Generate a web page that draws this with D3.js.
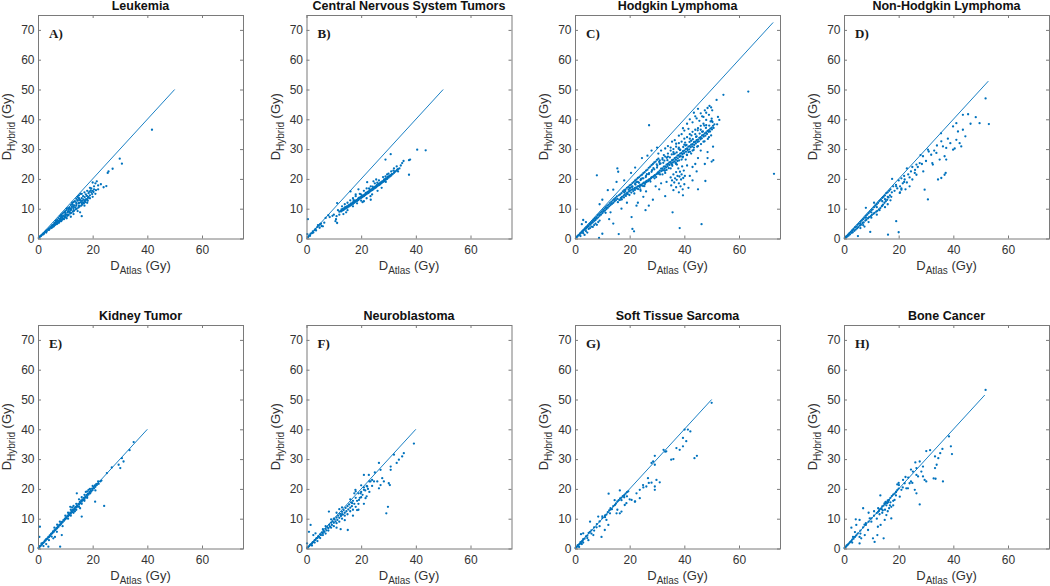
<!DOCTYPE html>
<html><head><meta charset="utf-8">
<script src="https://cdn.jsdelivr.net/npm/d3@7"></script>
<style>
html,body{margin:0;padding:0;background:#fff;}
svg{display:block;font-family:Arial,"Liberation Sans",Helvetica,sans-serif;}
</style></head>
<body>
<svg id="chart" width="1050" height="586"></svg>
<script>
// ---------- data ----------
const titles = ["Leukemia","Central Nervous System Tumors","Hodgkin Lymphoma","Non-Hodgkin Lymphoma","Kidney Tumor","Neuroblastoma","Soft Tissue Sarcoma","Bone Cancer"];
const letters = ["A)","B)","C)","D)","E)","F)","G)","H)"];
const lineEnds = [50,50,72.5,52.8,40,40,50,51.5];
const xTicks = [0,20,40,60];
const yTicks = [0,10,20,30,40,50,60,70];

const leukemia = [[0.3,0.3],[0.5,0.4],[0.8,0.7],[1,0.9],[1.2,1],[1.5,1.3],[1.8,1.5],[2,1.8],[2.2,1.7],[2.5,2.2],[2.8,2.3],[3,2.6],[3.2,2.4],[3.5,3],[3.8,2.9],[4,3.4],[4.2,3.1],[4.5,3.8],[4.8,3.5],[5,4.3],[5.2,3.8],[5.5,4.6],[5.8,4.2],[6,5.2],[6.2,4.5],[6.5,5.5],[6.8,4.8],[7,6.2],[7.2,5.1],[7.5,6.8],[7.8,5.6],[8,7.5],[8.2,5.9],[8.5,7.8],[8.8,6.3],[9,8.4],[9.2,6.6],[9.5,8.8],[9.8,7],[10,9.2],[10.2,7.2],[10.5,9.6],[10.8,7.6],[11,10.2],[11.2,7.9],[11.5,10.5],[11.8,8.4],[12,11.2],[12.2,8.6],[12.5,11.5],[12.8,9],[13,12.2],[13.2,9.3],[13.5,12.5],[13.8,9.8],[14,13.3],[14.2,10],[14.5,13.8],[14.8,10.4],[15,14.5],[15.2,10.7],[15.5,12.8],[15.8,11],[16,13.5],[16.2,11.4],[16.5,12],[16.8,11.8],[17,12.5],[17.3,12.2],[17.6,13.2],[18,13],[18.5,14],[19,14.5],[19.5,15.5],[20,16],[20.5,17.5],[21,18.5],[21.5,19.2],[20,18.8],[19,17],[18,16],[17,15.5],[16,15],[15,13.5],[14,12],[13,10.8],[12,10],[11,9.1],[10,8.2],[9,7.4],[8,6.6],[7,5.8],[6,4.9],[16.5,14.2],[17.5,14.8],[18.5,15.2],[19.5,16.8],[20.5,16.5],[22,17.8],[23,18.2],[24,17.2],[25,17.6],[25.5,22],[25.8,22.5],[27.3,23.4],[29.9,26.8],[30.7,25.1],[41.7,36.5],[16,7.5],[15.4,8.8],[13,8.2],[12,7.3],[10.5,6.8],[9.5,6.5],[8.5,5.8],[14.5,9.2],[17,11],[18,12],[19,13.5],[20,14],[21,15],[22,16.5],[3,2],[5,3.6],[7,5],[9,6.5],[11,8],[13,9.5],[15,11],[16,11.8],[17,12.8],[18.2,12.7],[6.5,5.9],[8.5,8],[10.5,10],[12.5,12],[14.5,14],[15.5,15],[14,11],[15,12],[12,9.5],[10,7.8],[8,6.2],[4,2.9],[2,1.4],[1,0.8],[5.3,4.4],[5.7,4],[6.1,4.7],[6.6,5],[6.9,5.4],[7.4,5.9],[7.7,5.3],[8.1,6.4],[8.4,6.9],[8.9,7],[9.3,7.7],[9.7,7.3],[10.1,8.6],[10.4,8],[10.9,8.8],[11.3,9.6],[11.6,8.9],[12.1,9.8],[12.4,10.6],[12.9,10.2],[13.3,11.1],[13.6,10.4],[14.1,11.6],[14.4,12.7],[14.9,11.8],[15.3,13],[15.7,12.2],[16.1,12.6],[16.6,13.1],[17.1,13.9],[17.4,12.9],[17.9,14.3],[18.3,13.6],[18.8,15.7],[19.3,16.1],[19.8,14.9],[20.3,15.6],[21.2,16.2],[8.6,7.4],[9.9,8.9],[11.4,10.1],[12.7,11.3],[14.6,12.9]];

const cns = [[0.3,1.5],[0.5,6.5],[0.6,0.5],[1,1],[1.3,0.9],[1.5,1.6],[2,1.8],[2.3,2.4],[2.5,2],[3,2.8],[3.3,3.2],[3.5,2.7],[4,3.9],[4.2,4.5],[4.5,4.3],[4.8,3.6],[5,4.8],[5.3,5],[5.5,4.2],[6,4.1],[6.5,5.3],[7,6.9],[8,7.8],[8.5,7.2],[9.5,7.6],[10,8],[10.6,5.8],[11.2,5.2],[11.2,11.9],[10.8,6.5],[11.5,9.5],[12,9],[12.5,9.2],[12.8,9.8],[13,9.4],[13.3,9.9],[13.5,9.6],[13.8,10.2],[14,9.9],[14.3,10.5],[14.5,10.2],[14.8,10.8],[15,10.4],[15.3,11],[15.5,10.7],[15.8,11.3],[16,11],[16.3,11.6],[16.5,11.3],[16.8,11.9],[17,11.6],[17.3,12.2],[17.5,12],[17.8,12.6],[18,12.3],[18.3,12.9],[18.5,12.6],[18.8,13.2],[19,12.9],[19.3,13.5],[19.5,13.3],[19.8,13.9],[20,13.6],[20.3,14.2],[20.5,13.9],[20.8,14.5],[21,14.2],[21.3,14.8],[21.5,14.6],[21.8,15.2],[22,14.9],[22.3,15.5],[22.5,15.2],[22.8,15.8],[23,15.5],[23.3,16.1],[23.5,15.9],[23.8,16.5],[24,16.2],[24.3,16.8],[24.5,16.5],[24.8,17.1],[25,16.9],[25.3,17.5],[25.5,17.2],[25.8,17.8],[26,17.6],[26.3,18.1],[26.5,17.9],[26.8,18.5],[27,18.2],[27.3,18.8],[27.5,18.6],[27.8,19.2],[28,19],[28.3,19.5],[28.5,19.3],[28.8,19.9],[29,19.7],[29.3,20.2],[29.5,20],[29.8,20.6],[30,20.4],[30.3,20.9],[30.5,20.8],[30.8,21.3],[31,21.1],[31.5,21.6],[32,22],[32.5,22.5],[33,22.8],[33.5,23.3],[34,23.5],[14,11.5],[16,12.8],[17,13.5],[18,14.2],[19.5,15],[21,16],[22,16.8],[23.5,17.5],[25,18.5],[26.5,19.5],[28,20.6],[29.5,21.5],[31,22.5],[15,9.5],[17,10.8],[18.5,11.8],[20,12.7],[20.5,12.2],[21,12.5],[22,13.5],[23.5,13],[23.4,14.2],[24,14.8],[26,16],[27.5,17],[16.1,15.8],[22.2,18.9],[18,14.8],[19,16.5],[24.5,19.2],[25.5,19.8],[28.9,26.5],[30.8,28.3],[35,25.3],[34.5,24.5],[35.5,26],[33,24.2],[32,23.5],[37.9,26.5],[37.5,26.3],[37.5,21.4],[40.5,29.8],[43.6,29.6],[30,21.8],[31.8,22.8],[33.5,22.5],[29,19],[13.5,8.2],[14.5,8.8],[12,8],[11,7.5],[13,10.8],[15,12],[12.7,9.1],[13.4,9.5],[14.1,10.4],[14.9,10.6],[15.6,11.2],[16.2,11.7],[16.9,12.1],[17.6,12.7],[18.4,12.8],[19.1,13.6],[19.7,13.8],[20.4,14.4],[21.1,14.5],[21.7,15.3],[22.4,15.6],[23.1,16.2],[23.7,16.4],[24.4,17.1],[25.1,17.3],[25.7,17.9],[26.4,18.3],[27.1,18.7],[27.7,19.1],[28.4,19.8],[29.1,20.1],[29.7,20.7],[30.4,21.1],[31.2,21.6],[32.3,22.4],[33.2,23.1],[19.9,14.8],[22.9,16.8],[25.9,18.7],[28.9,20.8],[17.2,12.9],[24.2,17.4]];

const hodgkin = [[0.5,0.4],[0.8,0.6],[1,0.9],[1.3,1.1],[1.5,1.2],[1.8,1.6],[2,1.7],[2.2,2],[2.5,2.1],[2.7,2.5],[3,2.6],[3.2,2.9],[3.5,3],[3.7,3.4],[4,3.3],[4.2,3.9],[4.5,3.8],[4.8,4.4],[5,4.1],[5.3,4.9],[5.5,4.6],[5.8,5.3],[6,5],[6.3,5.8],[6.5,5.4],[6.8,6.3],[7,5.9],[7.3,6.8],[7.5,6.2],[7.8,7.2],[8,6.7],[8.3,7.8],[8.5,7.1],[8.8,8.2],[9,7.6],[9.3,8.7],[9.5,8],[9.8,9.1],[10,8.5],[10.3,9.6],[10.5,9],[10.8,10.1],[11,9.4],[11.3,10.5],[11.5,9.9],[11.8,11],[12,10.3],[12.3,11.4],[12.5,10.8],[12.8,11.9],[13,11.2],[13.3,12.3],[13.5,11.6],[13.8,12.8],[14,12],[14.3,13.2],[14.5,12.5],[14.8,13.6],[15,12.9],[15.3,14.1],[3,1.8],[4,2.5],[5,3.2],[6,4],[2,0.8],[3.5,1.2],[4.5,2],[5.5,3.5],[6.5,3.9],[7,4.5],[7.5,5],[8,4.6],[8.5,5.5],[9,6],[3,6.2],[2.5,4.8],[4,5.5],[15.5,13.3],[16,14.5],[16.2,13],[16.5,14.8],[16.8,13.6],[17,15.2],[17.2,14],[17.5,15.8],[17.8,14.4],[18,16.2],[18.2,14.8],[18.5,16.5],[18.8,15.1],[19,17],[19.2,15.4],[19.5,17.3],[19.8,15.8],[20,17.8],[20.2,16.1],[20.5,18.1],[20.8,16.4],[21,18.6],[21.2,16.6],[21.5,19],[21.8,16.9],[22,19.5],[22.2,17.1],[22.5,19.8],[22.8,17.4],[23,20.3],[23.2,17.6],[23.5,20.6],[23.8,17.9],[24,21.1],[24.2,18.1],[24.5,21.4],[24.8,18.4],[25,21.9],[25.2,18.7],[25.5,22.3],[25.8,19],[26,22.8],[26.2,19.3],[26.5,23.1],[26.8,19.6],[27,23.7],[27.2,19.9],[27.5,24.1],[27.8,20.2],[28,24.6],[28.2,20.6],[28.5,25],[28.8,20.9],[29,25.5],[29.2,21.3],[29.5,25.8],[29.8,21.6],[30,26.4],[30.2,22],[30.5,26.8],[17,13.2],[19,15],[21,17.5],[23,19],[25,20.2],[27,21.6],[29,23.2],[18,15.5],[20,16.9],[22,18.3],[24,19.6],[26,21],[28,22.4],[30,23.8],[30.5,22.3],[31,22.8],[31.5,23.4],[32,23.5],[32.5,24.1],[33,24.2],[33.5,24.8],[34,25],[34.5,25.5],[35,25.7],[35.5,26.3],[36,26.5],[36.5,27],[37,27.2],[37.5,27.8],[38,28],[38.5,28.5],[39,28.7],[39.5,29.3],[40,29.5],[40.5,30],[41,30.2],[41.5,30.8],[42,31],[42.5,31.5],[43,31.7],[43.5,32.3],[44,32.5],[44.5,33],[45,33.2],[45.5,33.8],[46,34],[46.5,34.6],[47,34.8],[47.5,35.3],[48,35.6],[48.5,36.1],[49,36.4],[49.5,36.9],[50,37.2],[50.5,37.8],[51,38.3],[31,25],[32,26.5],[33,22],[34,27.5],[35,23.5],[36,29],[37,25],[38,30.5],[39,26.5],[40,31.5],[41,28],[42,33.5],[43,29.5],[44,35],[45,31],[46,36.5],[47,32.5],[48,38],[49,34],[50,39.5],[36.5,28.5],[38.5,29.8],[40.5,31.2],[42.5,32.8],[44.5,34.3],[46.5,35.8],[41.5,29],[43.5,30.5],[39.5,27.5],[37.5,26],[35.5,24.8],[33.5,23],[32,21.5],[30.5,28.5],[31.5,29.5],[32.5,28],[33,30.2],[34,31],[35,30.5],[35.5,32.5],[36.5,33],[37,31.8],[38,34.5],[39,35],[39.5,37],[40,36.2],[41,38.5],[41.5,36.8],[42,40],[43,39],[43.5,42.2],[44,41],[44.5,40.3],[45,43.5],[45.5,39.5],[46,42],[46.5,41],[47,40.8],[47.5,43],[48,42.2],[48.5,43.8],[49.2,44.5],[49.8,44],[50.2,43],[49,41.5],[50,40.2],[48,39.8],[47,38.5],[46,37.8],[45,37],[44,36.5],[43,35.8],[42,35],[41,34],[40,33.5],[39,32.5],[38,32],[37,30.8],[36,30],[35,29.5],[34,28.5],[33,27.5],[32,27],[31,26.2],[35,20.5],[35.5,19.5],[36,21.5],[36.3,18.8],[36.6,20.2],[37,22.3],[37.2,19.7],[37.5,21],[37.8,23.5],[38,18.5],[38.2,20.8],[38.4,22.4],[38.6,17.5],[38.8,19.8],[39,21.5],[39.2,24.2],[39.4,16.5],[39.6,20.3],[39.8,22.8],[40,18.2],[37,17.2],[36,16.2],[35.2,17.8],[38,15.5],[39.5,14.5],[37.3,24.8],[36.8,25.5],[40.2,21],[63.4,49.3],[72.8,21.7],[27.1,38],[54.3,48.2],[51.8,46.5],[52.3,40.8],[52.8,39.8],[52,38.3],[50.5,30.8],[50.6,26.3],[50,25.8],[48.5,27],[47.7,19.3],[47.5,25],[48.5,29],[46,29.5],[45,27],[44,25],[43,24],[42.5,28.5],[41,24.5],[40.5,26.5],[8,21.2],[15.5,23.5],[15.8,22.4],[15.2,19],[14,16.4],[12,16.2],[10,13],[9,11.5],[18,19.5],[20.5,22],[22,23.8],[24.5,27],[26.5,27.8],[28,29.5],[30,30.5],[21,3.2],[21.6,2.4],[16,1.5],[8.8,0.2],[10,1.6],[38.3,3.5],[46.3,4.8],[35.7,8.8],[25.8,9.5],[23,12],[20.7,7.2],[14,5],[12.5,6.5],[28.5,13],[30.8,16.5],[33,14.2],[27,11],[25,14],[22.5,11],[19,12],[17,10],[13,8.8],[11.2,8.6],[31.5,18.5],[33.5,19],[29.5,17.5],[26,15.8],[24,16],[42,21],[44.5,22.5],[43,19.5],[41.5,17],[45,16.5],[15.7,12.2],[16.4,12.9],[17.1,13.1],[17.9,13.8],[18.6,14.3],[19.3,14.9],[19.9,14.6],[20.6,15.4],[21.3,15.9],[21.9,16.3],[22.6,16.8],[23.1,16.6],[23.7,17.3],[24.4,17.8],[24.9,17.6],[25.6,18.3],[26.1,18.9],[26.7,19.2],[27.4,19.6],[27.9,20.4],[28.6,20.7],[29.3,21.1],[29.7,20.6],[30.4,21.7],[30.9,22.1],[31.6,22.6],[32.2,22.9],[32.8,23.4],[33.4,23.9],[33.9,24.3],[34.6,24.7],[35.2,25.2],[35.8,25.5],[36.3,25.9],[36.9,26.4],[37.6,26.9],[38.2,27.4],[38.7,27.6],[39.3,28.3],[39.9,28.6],[40.6,29.1],[41.2,29.7],[41.8,29.9],[42.3,30.6],[42.9,30.9],[43.6,31.4],[44.2,31.9],[44.8,32.4],[45.3,32.6],[45.9,33.3],[46.4,33.6],[47.1,34.2],[47.7,34.5],[48.3,35.1],[48.9,35.8],[49.4,35.9],[50.1,36.6],[50.7,37.1],[20.3,17.1],[22.4,18.9],[24.1,19.9],[26.3,21.6],[28.2,22.9],[30.1,24.4],[31.3,25.2],[32.7,26.1],[33.8,26.3],[34.7,27.2],[36.1,28.3],[37.2,28.9],[38.4,29.7],[39.6,30.7],[40.8,31.4],[41.9,32.4],[43.1,33.3],[44.3,34.1],[45.6,35.2],[46.8,35.9],[47.9,37.1],[49.1,37.9],[50.3,39.1],[21.7,15.1],[23.9,16.5],[25.4,17.6],[27.6,19.1],[29.1,20.2],[31.1,21.5],[32.9,22.7],[34.3,23.6],[35.6,24.4],[36.8,25.3],[38.1,26.2],[39.4,27.2],[40.9,28.1],[42.1,29.1],[43.4,29.7],[44.7,30.8],[46.1,31.7],[47.4,32.6],[48.6,33.4],[49.8,34.6],[18.4,15.9],[19.6,16.4],[20.9,17.3],[22.1,18.1],[23.4,18.7],[24.6,20.2],[25.9,20.6],[27.1,21.9],[28.7,23.6],[29.9,24.9],[30.8,25.7],[32.3,25.4],[33.6,27.1],[35.4,28.2],[37.9,30.1],[40.3,32.2],[42.6,34.6],[44.9,36.3],[47.3,37.9],[49.6,39.3]];

const nonHodgkin = [[0.3,0.2],[0.6,0.5],[0.8,0.4],[1,0.9],[1.2,0.7],[1.5,1.3],[1.7,1],[2,1.8],[2.2,1.4],[2.5,2.2],[2.8,1.9],[3,2.7],[3.2,2.1],[3.5,3.1],[3.8,2.6],[4,3.7],[4.3,3],[4.5,4],[4.8,3.4],[5,4.6],[5.2,3.8],[5.5,5],[5.8,4.3],[6,5.6],[6.2,4.6],[6.5,6],[6.8,5.2],[7,6.5],[7.2,5.4],[7.5,7],[7.8,6],[8,7.6],[8.2,6.3],[8.5,8],[8.8,6.8],[9,8.5],[9.2,7.2],[9.5,9],[9.8,7.5],[10,9.5],[10.2,7.9],[10.5,9.8],[10.8,8.3],[11,10.5],[11.2,8.6],[11.5,11],[11.8,9],[12,11.5],[12.2,9.3],[12.5,12],[12.8,9.8],[13,12.6],[13.3,10.2],[13.5,13],[13.8,10.8],[14,13.6],[14.3,11.4],[14.5,14],[14.8,12],[15,14.5],[15.3,12.5],[15.5,15.2],[15.8,13],[16,15.5],[16.3,13.8],[16.5,16],[16.8,14.5],[17,16.5],[17.3,14],[17.5,15.5],[6,3.5],[7,4.5],[8,10.3],[9,5.5],[10,7],[11,12],[12,8],[13,9.5],[14,11],[15,10.5],[16,11.5],[17,12.8],[9.6,2.2],[5.1,0.8],[16.1,1.3],[20,2.1],[19.1,5.8],[15,13.2],[16,14],[14,12.5],[12,10.5],[10,8.8],[8,7],[6,5],[7.5,4],[18,17.5],[18.5,16],[19,18],[17.6,20],[19.5,16.8],[20,19.5],[20.5,17.5],[21,20.2],[21.5,18.5],[22,21],[22.5,16.5],[22,19],[21,16.8],[20.5,15.5],[19.1,17.5],[20.4,15.3],[21,16.4],[22.2,19.8],[23,23.5],[23.5,21.5],[24,20.5],[24.5,22.5],[25,19.8],[25.9,22],[26.5,21.4],[26.5,24.8],[27.7,25.3],[28,28],[28.9,27.6],[29.5,16.4],[30.7,13.1],[30.7,29.8],[31.9,28.1],[32.3,25.3],[32.5,24.8],[33.8,28.7],[35,26.5],[35.6,32.6],[35.5,35.3],[36.2,30.9],[36.8,27.6],[37.4,26.5],[37.2,22],[36.8,21.4],[35.6,20.3],[34.4,19.8],[37.4,30.4],[38.9,32],[39.9,29.8],[39.9,37.6],[41.1,38.7],[41.7,35.9],[43.5,36.5],[44.4,34.3],[41.1,33.1],[42.3,32],[42.9,30.9],[43.5,41.5],[45.4,41.7],[46.3,38.5],[48.2,40.7],[49.6,38.7],[53,38.4],[51.8,47],[27,24],[28.5,25],[29,22.5],[30,26],[31,29.2],[33,29.5],[34,31.2],[38,33.5],[40.5,30.2],[24,17.5],[23,18.8],[25,24],[26,23]];

const kidney = [[0.2,0.2],[0.5,0.4],[0.7,0.8],[1,0.9],[1.3,1.3],[1.5,1.4],[1.8,1.9],[2,1.9],[2.3,2.2],[2.5,2.6],[2.8,2.7],[3,3.1],[3.3,3.2],[3.5,3.4],[3.8,3.9],[4,3.8],[4.3,4.4],[4.5,4.3],[4.8,4.9],[5,5],[5.3,5.2],[5.5,5.7],[5.8,5.6],[6,6.1],[6.3,6.2],[6.5,6.4],[6.8,6.9],[7,6.8],[7.3,7.4],[7.5,7.3],[7.8,7.9],[8,7.8],[8.3,8.4],[8.5,8.3],[8.8,8.9],[9,8.8],[9.3,9.5],[9.5,9.3],[9.8,10],[10,9.8],[10.3,10.5],[10.5,10.2],[10.8,11],[11,10.8],[11.3,11.5],[11.5,11.2],[11.8,12],[12,11.7],[12.3,12.5],[12.5,12.2],[12.8,13],[13,12.7],[13.3,13.5],[13.5,13.2],[13.8,14],[14,13.8],[14.3,14.5],[14.5,14.1],[14.8,15],[15,14.7],[15.3,15.6],[15.5,15.2],[15.8,16.1],[16,15.7],[16.3,16.5],[16.5,16.2],[16.8,17],[17,16.6],[17.3,17.5],[17.5,17.1],[17.8,18],[18,17.6],[18.3,18.4],[18.5,18.1],[18.8,19],[19,18.6],[19.3,19.5],[19.5,19.1],[19.8,20.1],[20,19.6],[20.3,20.6],[20.5,20.2],[20.8,21.2],[21,20.7],[21.3,21.6],[21.5,21.3],[21.8,21.8],[22.2,21.7],[22.8,22.5],[23.2,22.8],[10,11],[11,12],[12,13],[13,14.3],[14,15],[15,16.5],[16,17.2],[17,16],[18,17],[19,20],[11,10],[12,11],[13,12],[14,13],[15,14],[16,15],[17,18],[18,19.2],[12.5,13.8],[13.5,12.5],[11.8,14],[15.4,13.5],[16,10.7],[14.2,18.5],[18.5,19.7],[19.1,18.5],[20.9,15.7],[24.2,14.3],[25.2,25.3],[29.5,28.1],[30.1,27],[30.7,30.3],[31.3,29.2],[35,35.7],[0.7,7.3],[0.5,3.9],[1.3,1.7],[8.1,0.6],[3.8,0.6],[5.6,3.4],[6.2,3.9],[8.7,4.5],[6.9,5.6],[2,0.8],[3,1.5],[4,2.8],[7,8],[8,9],[9,7.5],[6,7],[5,4],[27,27.2],[33.5,33],[22,22.5],[21,19.5],[20,21],[17.5,19]];

const neuroblastoma = [[0.3,0.2],[0.6,0.5],[1,0.8],[1.3,1.2],[1.6,1.4],[2,1.7],[2.3,2.1],[2.6,2.2],[3,2.8],[3.3,2.9],[3.6,3.4],[4,3.5],[4.3,4.1],[4.6,3.9],[5,4.7],[5.3,4.5],[5.6,5.3],[6,5.2],[6.3,5.9],[6.6,5.6],[7,6.6],[7.3,6.1],[7.6,7.2],[8,6.8],[8.3,7.9],[8.6,7.3],[9,8.6],[9.3,7.9],[9.6,9.1],[10,8.6],[10.3,9.8],[10.6,9.1],[11,10.4],[11.3,9.6],[11.6,11],[12,10.3],[12.3,11.6],[12.6,10.9],[13,12.3],[13.3,11.4],[13.6,12.9],[14,12],[14.3,13.6],[14.6,12.5],[15,14.2],[15.3,13.1],[15.6,14.8],[16,13.7],[16.3,15.5],[16.6,14.2],[17,16],[17.5,15],[18,17],[18.5,16],[19,18.5],[19.5,17],[20,19],[20.5,18],[21,20.5],[21.5,19.5],[22,21],[22.5,20],[23,22.5],[24,23],[2,1],[3,2],[4,2.5],[5,3.5],[6,4.5],[7,5],[8,6],[9,7],[10,7.5],[11,8.5],[12,9],[13,10],[14,11],[15,11.5],[16,12.5],[17,13],[18,14],[19,15],[11,12],[12,13.2],[13,13.8],[9,9.8],[16,16.5],[17.5,18.5],[18,19.2],[20,21.2],[8.2,12.4],[1.5,7.9],[0.9,5.6],[3.3,5.1],[0.2,1.7],[2.5,4.5],[15.1,6.2],[16.7,15.2],[17.9,19.7],[18.5,12.9],[19.2,16.3],[19.8,18.5],[21.6,16.9],[21,19.7],[22.2,20.8],[21,24.7],[22.8,24.7],[23.4,22.5],[24.7,22.5],[25.9,22.5],[26.5,20.2],[27.1,21.3],[28.3,22.5],[27.7,23.6],[27.1,26.4],[26.5,28.7],[29.2,11.8],[29.8,14],[30.1,21.9],[30.5,21.3],[30.8,27.5],[30.8,26.4],[33.8,29.8],[33,28.7],[35,30.9],[35.6,32],[39.3,35.2],[32,31.5],[25,25.5],[24,21],[23,19],[22,17.5],[21,15],[20,17.2],[19,13],[17,11],[14,9.5],[13,11.5],[10,10],[6,6.5],[7,7.5],[12.5,6.5],[11,7]];

const softTissue = [[0.2,0.2],[0.5,0.4],[0.8,0.7],[1,1.1],[1.2,0.9],[1.5,1.4],[1.8,1.6],[2,2.1],[2.2,1.8],[2.5,2.4],[2.8,2.6],[3,3.1],[3.5,3.3],[4,4.1],[4.5,4.3],[5,5.2],[5.5,5.6],[6,6.1],[7,7.1],[8,8.2],[9,9.1],[10,10.2],[11,11.1],[12,12.2],[13,13.1],[14,14.2],[15,15.1],[16,16.2],[17,17.1],[17.5,17.6],[18,17.9],[18.5,18.4],[19,18.9],[19.5,19.2],[16.5,16.8],[15.5,15.8],[13.5,13.2],[12.5,12.8],[11.5,11.4],[2.5,1.5],[1.5,0.5],[3,2],[50,48.9],[40.1,39.9],[41.3,39.9],[42.2,39.3],[40.7,36],[39.5,37.1],[37.1,33.7],[38.3,33.1],[39.5,34.3],[35.2,29.8],[36,30],[43.7,30.3],[44.6,31.1],[32.4,33.1],[33.4,32.6],[29.2,31.1],[28.6,29.2],[29.2,28.1],[28,28.7],[29.8,23],[31,22.2],[29.2,20.8],[29.2,19.7],[26.7,23.6],[28,22.1],[24.9,21.3],[26.1,20.8],[23.7,19.7],[23.7,16.9],[22.5,18.5],[21.9,15.7],[20.7,16.3],[18.8,15.2],[18.2,14.6],[16.4,19.5],[17,12.4],[16.4,11.8],[14.6,14.6],[15.2,11.8],[12.8,11.8],[12.2,7.9],[11.5,9.6],[12.3,18.4],[5.5,9],[8.5,10.7],[7.9,7.1],[9.7,3.9],[10.9,6.2],[3,5.1],[6.7,4.5],[4.9,2.8],[13,13.5],[14.5,16.2],[15.5,13],[17,16.2],[18,17.2],[19,17.5],[11,10.5],[10,10.8],[9,7.5],[7,6],[6,5],[4.5,3.5],[2.2,4.8],[20,16.5],[22,15.8],[25,20.5],[27,22],[33,32.5]];

const bone = [[0.2,0.2],[0.5,0.4],[0.8,0.7],[1,1],[1.3,1.2],[1.6,1.5],[2,1.9],[2.3,2.2],[2.7,2.5],[3,3],[3.5,3.3],[4,3.9],[4.5,4.4],[5,5],[6,6],[7,7.1],[8,7.9],[9,9],[10,10.1],[11,11],[12,11.9],[12.5,12.3],[13,13.1],[13.5,13.4],[14,14.1],[14.5,14.4],[15,15],[15.5,15.4],[16,16.1],[16.5,16.3],[17,17],[17.5,17.6],[18,18.1],[18.5,18.4],[19,18.9],[19.5,19.6],[20,20.1],[15.2,15.6],[14.8,15.1],[15.8,15.2],[16.2,15.6],[13.8,13.2],[12.8,12.6],[51.8,53.2],[38.4,37.6],[39.1,34.3],[39.5,31.7],[36,33.4],[35.2,32],[34.5,30.3],[33.3,30.9],[33.9,28.1],[33.3,27],[33.5,23.4],[32.8,23.5],[36.2,22.5],[30.1,32.7],[28.9,27.5],[27.7,29.2],[26.1,28.9],[26.5,27],[28.3,25.8],[29.5,23],[30.1,22.5],[28.9,24.2],[27.1,24.2],[26.5,24.7],[25.2,25.8],[25.9,19.7],[26.5,18.5],[27.7,14.8],[24,21.9],[23.4,20.2],[22.2,21.9],[21.6,23],[20.4,17.4],[21,19.7],[20.1,21.3],[19.1,19.1],[18.5,16.3],[17.3,14],[17.3,10.1],[15.5,11.2],[14.9,9.6],[14.5,3.4],[13.4,7.9],[12.4,7.3],[12.2,4.5],[11.2,2.2],[13.3,17.8],[9.4,10.1],[9,12],[7,13.5],[5.7,9.6],[4.3,9.8],[4.5,7.9],[2.7,7],[3.3,3.9],[5.7,3.9],[6.3,3.4],[5.7,1.7],[7.6,4.5],[8.8,6.2],[10.6,3.4],[22.5,24],[23.5,23.8],[24.5,22.5],[25,22],[20,22],[19.5,21.5],[18,16],[17,15.5],[16.5,13.5],[16,12.5],[15,13],[14,12],[13,11.5],[12,10],[11,12.5],[10,9],[8,8.5],[6,5],[4,5.5],[3,2],[7.5,8],[19,17.8],[21.5,20.5],[18,14.5],[16.8,14.5],[15.5,14.5],[14.2,12.8],[12.5,13.5],[31.5,33],[24.5,26.5],[22.8,20.2]];

const datasets = [leukemia, cns, hodgkin, nonHodgkin, kidney, neuroblastoma, softTissue, bone];

// ---------- layout ----------
const svg = d3.select("#chart");
const W = 205, H = 223.5;
const colLeft = [38, 306.5, 575, 844];
const rowTop = [15, 325];
const blue = "#0072BD";
const axisGray = "#7a7a7a";
const textGray = "#333";

datasets.forEach((data, i) => {
  const col = i % 4, row = Math.floor(i / 4);
  const g = svg.append("g").attr("transform", `translate(${colLeft[col]},${rowTop[row]})`);
  const x = d3.scaleLinear().domain([0, 75]).range([0, W]);
  const y = d3.scaleLinear().domain([0, 75]).range([H, 0]);

  g.append("line")
    .attr("x1", x(0)).attr("y1", y(0))
    .attr("x2", x(lineEnds[i])).attr("y2", y(lineEnds[i]))
    .attr("stroke", blue).attr("stroke-width", 0.9);

  g.append("g").selectAll("circle").data(data).join("circle")
    .attr("cx", d => x(d[0])).attr("cy", d => y(d[1]))
    .attr("r", 1.15).attr("fill", blue);

  const styleAxis = sel => {
    sel.select(".domain").remove();
    sel.selectAll(".tick line").attr("stroke", axisGray);
    sel.selectAll(".tick text").attr("fill", textGray).style("font-size", "12px")
      .style("font-family", "Arial, 'Liberation Sans', sans-serif");
  };
  g.append("g").attr("transform", `translate(0,${H})`)
    .call(d3.axisBottom(x).tickValues(xTicks).tickSizeInner(-3).tickSizeOuter(0).tickPadding(6.5))
    .call(styleAxis);
  g.append("g")
    .call(d3.axisTop(x).tickValues(xTicks).tickSizeInner(-3).tickSizeOuter(0).tickFormat(""))
    .call(styleAxis);
  g.append("g")
    .call(d3.axisLeft(y).tickValues(yTicks).tickSizeInner(-3).tickSizeOuter(0).tickPadding(3.5))
    .call(styleAxis);
  g.append("g").attr("transform", `translate(${W},0)`)
    .call(d3.axisRight(y).tickValues(yTicks).tickSizeInner(-3).tickSizeOuter(0).tickFormat(""))
    .call(styleAxis);

  g.append("rect").attr("x", 0.5).attr("y", 0.5).attr("width", W).attr("height", H)
    .attr("fill", "none").attr("stroke", axisGray).attr("stroke-width", 1);

  g.append("text").attr("x", W / 2).attr("y", -5).attr("text-anchor", "middle")
    .style("font-size", "12.5px").style("font-weight", "bold").attr("fill", "#111")
    .text(titles[i]);

  g.append("text").attr("x", 11).attr("y", 23)
    .style("font-family", "'Liberation Serif','DejaVu Serif',serif")
    .style("font-size", "13px").style("font-weight", "bold").attr("fill", "#1a1a1a")
    .text(letters[i]);

  const xl = g.append("text").attr("x", W / 2).attr("y", H + 31).attr("text-anchor", "middle")
    .attr("fill", textGray).style("font-size", "13px");
  xl.append("tspan").text("D");
  xl.append("tspan").attr("dy", 4).style("font-size", "10px").text("Atlas");
  xl.append("tspan").attr("dy", -4).text(" (Gy)");

  const yl = g.append("text").attr("transform", `translate(-27,${H / 2}) rotate(-90)`)
    .attr("text-anchor", "middle").attr("fill", textGray).style("font-size", "13px");
  yl.append("tspan").text("D");
  yl.append("tspan").attr("dy", 4).style("font-size", "10px").text("Hybrid");
  yl.append("tspan").attr("dy", -4).text(" (Gy)");
});
</script>
</body></html>
